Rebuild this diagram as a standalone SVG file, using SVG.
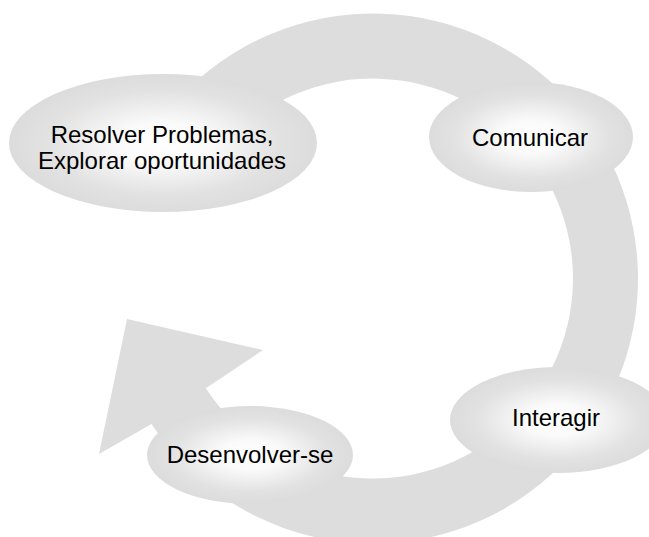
<svg xmlns="http://www.w3.org/2000/svg" width="649" height="537" viewBox="0 0 649 537">
  <defs>
    <radialGradient id="g" cx="0.5" cy="0.5" r="0.5">
      <stop offset="0" stop-color="#ffffff"/>
      <stop offset="0.3" stop-color="#fafafa"/>
      <stop offset="0.75" stop-color="#e2e2e2"/>
      <stop offset="1" stop-color="#dcdcdc"/>
    </radialGradient>
  </defs>
  <style>
    .node ellipse { fill: url(#g); }
    .ring { fill: #dddddd; }
    text { font-family: "Liberation Sans", Arial, sans-serif; font-size: 24px; fill: #000; text-anchor: middle; }
  </style>
  <rect width="649" height="537" fill="#ffffff"/>
  <g id="connectors">
    <path class="ring" d="M143.5,146 A265,265 0 1 1 151.5,424 L99,454 L127,319 L263,350 L205.8,388.3 A200,200 0 1 0 199.8,178.5 Z"/>
  </g>
  <g id="resolver" class="node">
    <ellipse cx="163" cy="143" rx="154" ry="69"/>
    <text x="162" y="142.5">Resolver Problemas,</text>
    <text x="162" y="169">Explorar oportunidades</text>
  </g>
  <g id="comunicar" class="node">
    <ellipse cx="531" cy="137" rx="102" ry="55"/>
    <text x="530" y="145.5">Comunicar</text>
  </g>
  <g id="interagir" class="node">
    <ellipse cx="558" cy="420" rx="108" ry="53"/>
    <text x="556" y="425.5">Interagir</text>
  </g>
  <g id="desenvolver" class="node">
    <ellipse cx="250" cy="455" rx="103" ry="49"/>
    <text x="250" y="463">Desenvolver-se</text>
  </g>
</svg>
